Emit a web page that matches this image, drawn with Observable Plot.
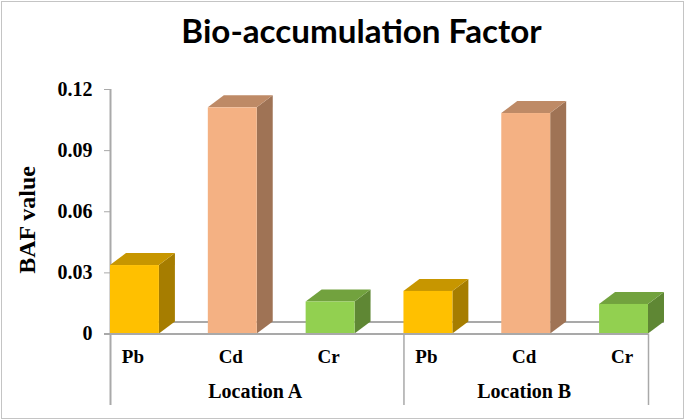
<!DOCTYPE html>
<html>
<head>
<meta charset="utf-8">
<script src="https://cdn.jsdelivr.net/npm/d3@7"></script>
<script src="https://cdn.jsdelivr.net/npm/@observablehq/plot@0.6"></script>
<style>
  html, body { margin: 0; padding: 0; background: #fff; }
  #chart { position: relative; width: 685px; height: 420px; overflow: hidden; background: #fff; }
  #chart::after { content: ""; position: absolute; left: 1px; top: 1px; width: 681px; height: 416px; border: 1.5px solid #c4c4c4; pointer-events: none; }
  #title { height: 60px; line-height: 61px; text-align: center; width: 723px; font-family: Lato, sans-serif; font-weight: 700; font-size: 33.2px; color: #000; }
  svg { display: block; }
</style>
</head>
<body>
<div id="chart"><div id="title">Bio-accumulation Factor</div></div>
<script>
const title = "Bio-accumulation Factor";
const yLabel = "BAF value";
const locations = ["Location A", "Location B"];
const metals = ["Pb", "Cd", "Cr"];
const locationA = [0.0336, 0.1110, 0.0157];
const locationB = [0.0209, 0.1082, 0.0145];
const yTicks = [0, 0.03, 0.06, 0.09, 0.12];
const yTickLabels = ["0", "0.03", "0.06", "0.09", "0.12"];
const metalColors = ["#ffc000", "#f4b183", "#92d050"];

const barWidth = 0.5;
const separators = [0, metals.length, 2 * metals.length - 1 + barWidth];
const table = [locationA, locationB].flatMap((vals, g) =>
  vals.map((value, i) => ({ metal: metals[i], location: locations[g], value, pos: g * metals.length + i }))
);
const groupLabels = locations.map((name, g) => ({ name, pos: (separators[g] + separators[g + 1]) / 2 }));

const depthX = 16, depthY = 12;
const gray = "#a9a9a9";
const serif = "'Liberation Serif', serif";
const below = 71.5;

function shade(color, k) {
  const c = d3.rgb(color);
  return d3.rgb(c.r * k, c.g * k, c.b * k).formatHex();
}
function extrude(I, scales, channels, dims, ctx, next) {
  const g = next(I, scales, channels, dims, ctx);
  const { x1, x2, y1, y2, fill } = channels;
  const layer = d3.select(g).insert("g", ":first-child");
  for (const i of I) {
    const l = x1[i], r = x2[i], b = Math.max(y1[i], y2[i]), t = Math.min(y1[i], y2[i]);
    layer.append("polygon")
      .attr("points", [[r, b], [r + depthX, b - depthY], [r + depthX, t - depthY], [r, t]].join(" "))
      .attr("fill", shade(fill[i], 0.65));
    layer.append("polygon")
      .attr("points", [[l, t], [l + depthX, t - depthY], [r + depthX, t - depthY], [r, t]].join(" "))
      .attr("fill", shade(fill[i], 0.78));
  }
  return g;
}

const plot = Plot.plot({
  width: 685,
  height: 360,
  marginTop: 29,
  marginBottom: 86.5,
  marginLeft: 110,
  marginRight: 37,
  style: { fontFamily: serif, fontWeight: "bold", color: "#000", background: "transparent" },
  x: { domain: [0, separators[2]], axis: null },
  y: { domain: [0, 0.12], axis: null },
  color: { domain: metals, range: metalColors },
  marks: [
    Plot.ruleY([0], { x1: 0, x2: separators[2], dx: depthX, dy: -depthY, stroke: gray, strokeWidth: 2 }),
    Plot.axisY({
      ticks: yTicks,
      tickFormat: (d) => yTickLabels[yTicks.indexOf(d)],
      tickSize: 6,
      tickPadding: 12,
      stroke: gray,
      fill: "#000",
      fontSize: 20,
      fontFamily: serif,
      fontWeight: "bold",
      label: null
    }),
    Plot.ruleX([0], { stroke: gray, strokeWidth: 2, insetBottom: -below }),
    Plot.ruleX(separators.slice(1), { stroke: gray, strokeWidth: 1.5, insetTop: 244.5, insetBottom: -below }),
    Plot.rect(table, {
      x1: "pos",
      x2: (d) => d.pos + barWidth,
      y1: 0,
      y2: "value",
      fill: "metal",
      render: extrude
    }),
    Plot.ruleY([0], { x1: 0, x2: separators[2], insetLeft: -6, stroke: gray, strokeWidth: 2 }),
    Plot.text(table, {
      x: (d) => d.pos + barWidth / 2,
      text: "metal",
      frameAnchor: "bottom",
      dx: -2,
      dy: 29,
      fontSize: 19,
      fontFamily: serif,
      fontWeight: "bold",
      fill: "#000"
    }),
    Plot.text(groupLabels, {
      x: "pos",
      text: "name",
      frameAnchor: "bottom",
      dx: -2,
      dy: 64,
      fontSize: 20,
      fontFamily: serif,
      fontWeight: "bold",
      fill: "#000"
    }),
    Plot.text([yLabel], {
      text: (d) => d,
      frameAnchor: "left",
      rotate: -90,
      dx: -83,
      dy: 62,
      fontSize: 24,
      fontFamily: serif,
      fontWeight: "bold",
      fill: "#000"
    })
  ]
});
document.getElementById("chart").appendChild(plot);
</script>
</body>
</html>
